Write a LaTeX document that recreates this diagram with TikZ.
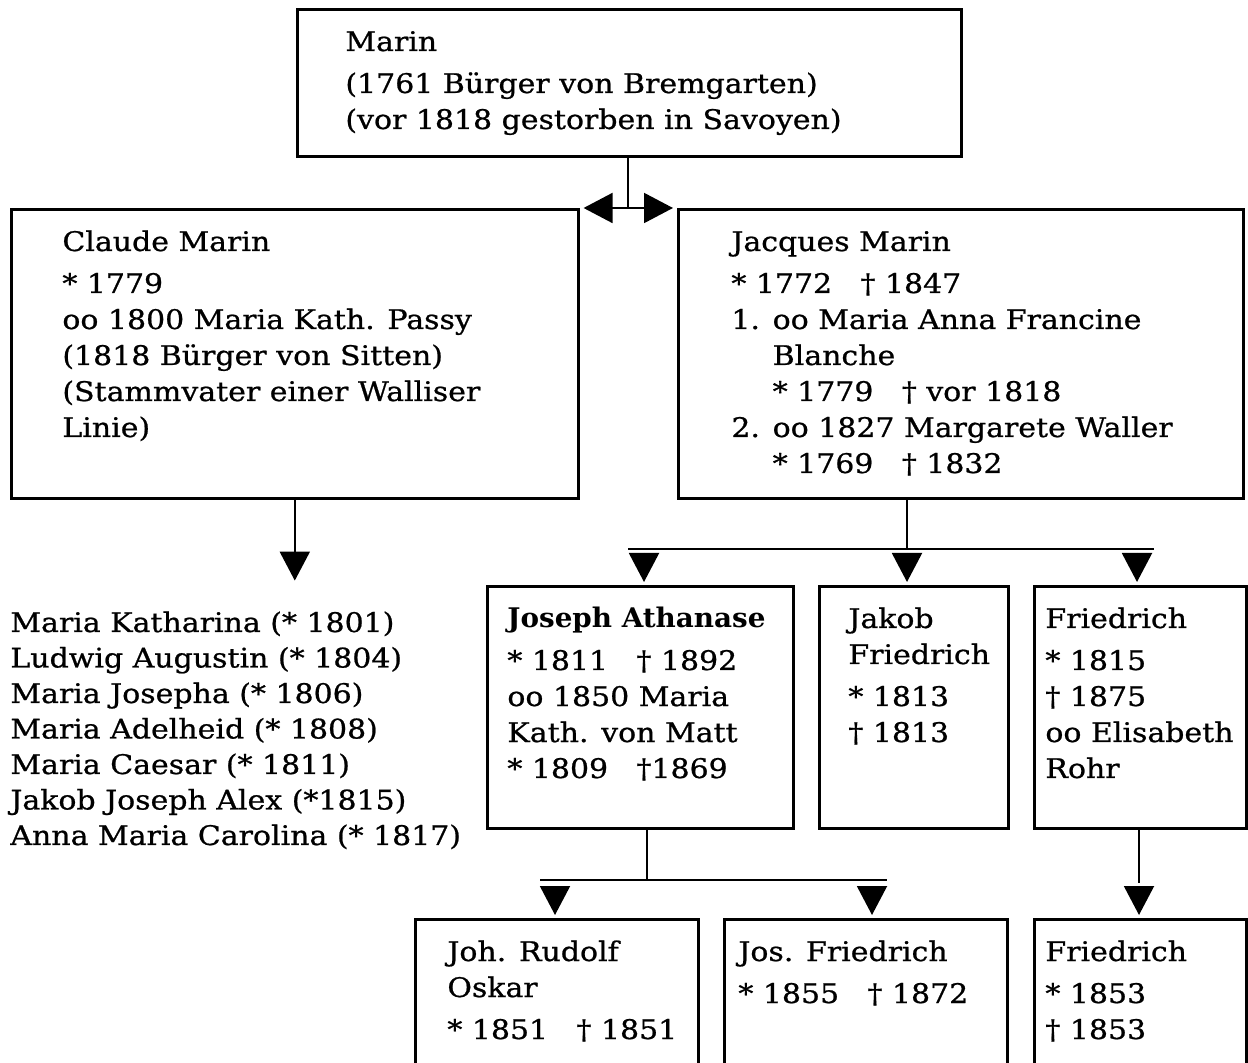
\documentclass[tikz,border=0pt]{standalone}
\usepackage{fontspec}
\setmainfont{DejaVu Serif}[FakeStretch=1.11, FakeBold=0.8]
\newfontfamily\boldname{DejaVu Serif Bold}[FakeStretch=1.03]
\usetikzlibrary{arrows.meta}
\newcommand{\gap}{\hspace{1.05em}}
\begin{document}
\begin{tikzpicture}[x=0.5pt,y=-0.5pt,
  box/.style={draw, line width=1.3pt, inner sep=0pt, anchor=north west},
  link/.style={line width=1pt},
  tipdown/.style={-{Triangle[width=15pt,length=14.5pt]}, line width=1pt, shorten >=1.5pt},
  tipboth/.style={{Triangle[width=15pt,length=14.5pt]}-{Triangle[width=15pt,length=14.5pt]}, line width=1pt},
  txt/.style={inner sep=0pt, anchor=base west, font=\fontsize{13.5}{18}\selectfont},
]
\useasboundingbox (0,0) rectangle (1248,1063);
\clip (0,0) rectangle (1248,1063);

% boxes
\node[box, minimum width=332pt, minimum height=73.5pt] (marin) at (296,8) {};
\node[box, minimum width=283.5pt, minimum height=144.5pt] (claude) at (10,208) {};
\node[box, minimum width=282.5pt, minimum height=144.5pt] (jacques) at (677,208) {};
\node[box, minimum width=153pt, minimum height=121pt] (joseph) at (486,585) {};
\node[box, minimum width=94.5pt, minimum height=121pt] (jakob) at (818,585) {};
\node[box, minimum width=106pt, minimum height=121pt] (fried) at (1033,585) {};
\node[box, minimum width=141.5pt, minimum height=101pt] (joh) at (414,918) {};
\node[box, minimum width=141.5pt, minimum height=101pt] (jos) at (723,918) {};
\node[box, minimum width=106pt, minimum height=101pt] (fried3) at (1033,918) {};

% texts
\node[txt] (marinT) at (345,51) {\begin{tabular}[t]{@{}l@{}}Marin\\[3pt]
(1761 Bürger von Bremgarten)\\
(vor 1818 gestorben in Savoyen)\end{tabular}};

\node[txt] (claudeT) at (62,251) {\begin{tabular}[t]{@{}l@{}}Claude Marin\\[3pt]
{*} 1779\\
oo 1800 Maria Kath. Passy\\
(1818 Bürger von Sitten)\\
(Stammvater einer Walliser\\
Linie)\end{tabular}};

\node[txt] (jacquesT) at (731,251) {\begin{tabular}[t]{@{}l@{}}Jacques Marin\\[3pt]
{*} 1772\gap † 1847\\
1. oo Maria Anna Francine\\
\phantom{1. }Blanche\\
\phantom{1. }{*} 1779\gap † vor 1818\\
2. oo 1827 Margarete Waller\\
\phantom{1. }{*} 1769\gap † 1832\end{tabular}};

\node[txt] (josephT) at (507,628) {\begin{tabular}[t]{@{}l@{}}{\boldname Joseph Athanase}\\[3pt]
{*} 1811\gap † 1892\\
oo 1850 Maria\\
Kath. von Matt\\
{*} 1809\gap †1869\end{tabular}};

\node[txt] (jakobT) at (848,628) {\begin{tabular}[t]{@{}l@{}}Jakob\\
Friedrich\\[3pt]
{*} 1813\\
† 1813\end{tabular}};

\node[txt] (friedT) at (1045,628) {\begin{tabular}[t]{@{}l@{}}Friedrich\\[3pt]
{*} 1815\\
† 1875\\
oo Elisabeth\\
Rohr\end{tabular}};

\node[txt] (johT) at (447,961) {\begin{tabular}[t]{@{}l@{}}Joh. Rudolf\\
Oskar\\[3pt]
{*} 1851\gap † 1851\end{tabular}};

\node[txt] (josT) at (738,961) {\begin{tabular}[t]{@{}l@{}}Jos. Friedrich\\[3pt]
{*} 1855\gap † 1872\end{tabular}};

\node[txt] (fried3T) at (1045,961) {\begin{tabular}[t]{@{}l@{}}Friedrich\\[3pt]
{*} 1853\\
† 1853\end{tabular}};

\node[txt, font=\fontsize{13.5}{17.75}\selectfont] (kids) at (10,632) {\begin{tabular}[t]{@{}l@{}}Maria Katharina (* 1801)\\
Ludwig Augustin (* 1804)\\
Maria Josepha (* 1806)\\
Maria Adelheid (* 1808)\\
Maria Caesar (* 1811)\\
Jakob Joseph Alex (*1815)\\
Anna Maria Carolina (* 1817)\end{tabular}};

% connectors: Marin -> Claude / Jacques
\coordinate (tee) at (628,209);
\draw[link] (marin.south -| tee) -- (tee);
\draw[tipboth] ([xshift=2pt]claude.north east) -- ([xshift=-2pt]jacques.north west);

% Claude -> list
\draw[tipdown] (claude.south) -- ++(0,84);

% Jacques -> children
\coordinate (jbus) at (907,549);
\draw[link] (jacques.south -| jbus) -- (jbus);
\draw[link] (628,549) -- (1154,549);
\draw[tipdown] (644,553) -- (644,553 |- joseph.north);
\draw[tipdown] (907,553) -- (907,553 |- jakob.north);
\draw[tipdown] (1137,553) -- (1137,553 |- fried.north);

% Joseph -> children
\coordinate (sbus) at (647,880);
\draw[link] (joseph.south -| sbus) -- (sbus);
\draw[link] (540,880) -- (887,880);
\draw[tipdown] (555,886) -- (555,886 |- joh.north);
\draw[tipdown] (872,886) -- (872,886 |- jos.north);

% Friedrich -> Friedrich
\draw[link] (fried.south -| 1139,0) -- (1139,883);
\draw[tipdown] (1139,886) -- (1139,886 |- fried3.north);
\end{tikzpicture}
\end{document}
